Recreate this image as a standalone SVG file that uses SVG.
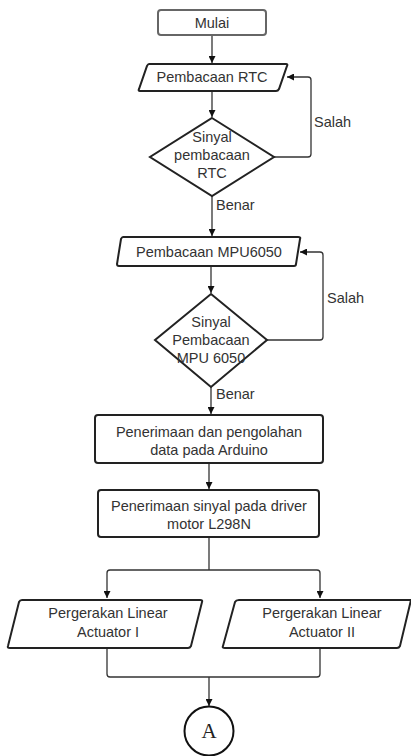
<svg xmlns="http://www.w3.org/2000/svg" width="411" height="756" viewBox="0 0 411 756">
<defs>
<marker id="arr" viewBox="0 0 10 10" refX="10" refY="5" markerWidth="7" markerHeight="7" markerUnits="userSpaceOnUse" orient="auto">
<path d="M0,0 L10,5 L0,10 z" fill="#111"/>
</marker>
<style>
.n{fill:#fff;stroke:#222;stroke-width:2}
.g{fill:#fff;stroke:#666;stroke-width:2}
.t{font-family:"Liberation Sans",Arial,sans-serif;font-size:14.5px;fill:#333;text-anchor:middle}
.l{font-family:"Liberation Sans",Arial,sans-serif;font-size:14.5px;fill:#333}
.c{fill:none;stroke:#333;stroke-width:1.3;marker-end:url(#arr)}
.p{fill:none;stroke:#333;stroke-width:1.3}
</style>
</defs>
<rect width="411" height="756" fill="#fff"/>
<g id="connectors">
<path class="c" d="M212,35 V63"/>
<path class="c" d="M212,91 V117"/>
<path class="c" d="M274,157 H308 Q311,157 311,154 V80 Q311,77 308,77 H287"/>
<path class="c" d="M212,196 V236"/>
<path class="c" d="M211,266 V293"/>
<path class="c" d="M267,340 H320 Q323,340 323,337 V255 Q323,252 320,252 H300"/>
<path class="c" d="M211,387 V414"/>
<path class="c" d="M209,464 V489"/>
<path class="p" d="M209,538 V570"/>
<path class="c" d="M209,570 H110 Q107,570 107,573 V598"/>
<path class="c" d="M209,570 H317 Q320,570 320,573 V598"/>
<path class="p" d="M107,649 V674 Q107,677 110,677 H317 Q320,677 320,674 V649"/>
<path class="c" d="M209,677 V706"/>
<text class="l" x="314" y="127">Salah</text>
<text class="l" x="327" y="303">Salah</text>
<text class="l" x="216" y="210">Benar</text>
<text class="l" x="216" y="399">Benar</text>
</g>
<g id="mulai">
<rect class="g" x="158" y="10" width="108" height="25" rx="3"/>
<text class="t" x="212" y="28">Mulai</text>
</g>
<g id="rtc">
<path class="n" d="M149,64 H286 Q288,64 287,66 L279,89 Q278,91 276,91 H140 Q138,91 139,89 L147,66 Q148,64 149,64 z"/>
<text class="t" x="212" y="82">Pembacaan RTC</text>
</g>
<g id="d1">
<path class="n" d="M212,118 L274,157 L212,196 L150,157 z"/>
<text class="t" x="212" y="142">Sinyal</text>
<text class="t" x="212" y="160">pembacaan</text>
<text class="t" x="212" y="178">RTC</text>
</g>
<g id="mpu">
<path class="n" d="M123,237 H298 Q301,237 300,239 L296,264 Q296,266 294,266 H119 Q117,266 117,264 L121,239 Q122,237 123,237 z"/>
<text class="t" x="209" y="257">Pembacaan MPU6050</text>
</g>
<g id="d2">
<path class="n" d="M211,294 L267,340 L211,387 L155,340 z"/>
<text class="t" x="211" y="327">Sinyal</text>
<text class="t" x="211" y="345">Pembacaan</text>
<text class="t" x="211" y="363">MPU 6050</text>
</g>
<g id="arduino">
<rect class="n" x="95" y="415" width="228" height="48" rx="3"/>
<text class="t" x="209" y="437">Penerimaan dan pengolahan</text>
<text class="t" x="209" y="455">data pada Arduino</text>
</g>
<g id="driver">
<rect class="n" x="98" y="490" width="221" height="47" rx="3"/>
<text class="t" x="209" y="511">Penerimaan sinyal pada driver</text>
<text class="t" x="209" y="529">motor L298N</text>
</g>
<g id="act1">
<path class="n" d="M22,600 H200 Q203,600 202,602 L191,646 Q190,648 188,648 H10 Q7,648 8,646 L19,602 Q20,600 22,600 z"/>
<text class="t" x="108" y="618">Pergerakan Linear</text>
<text class="t" x="108" y="637">Actuator I</text>
</g>
<g id="act2">
<path class="n" d="M239,600 H411 L400,646 Q399,648 397,648 H225 Q222,648 223,646 L235,602 Q236,600 239,600 z"/>
<text class="t" x="322" y="618">Pergerakan Linear</text>
<text class="t" x="322" y="637">Actuator II</text>
</g>
<g id="a">
<circle cx="209" cy="731" r="24.5" fill="#fff" stroke="#111" stroke-width="2"/>
<text x="209" y="738" font-family="'Liberation Serif',serif" font-size="21" fill="#222" text-anchor="middle">A</text>
</g>
</svg>
